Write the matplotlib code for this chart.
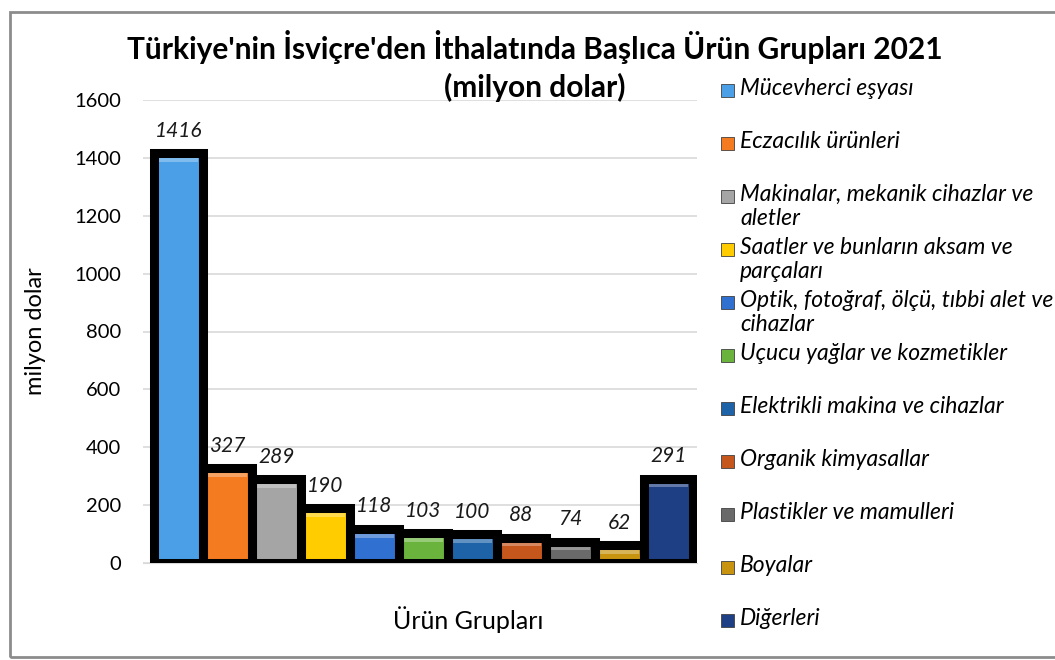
import matplotlib
matplotlib.use("Agg")
import matplotlib.pyplot as plt
from matplotlib.patches import Rectangle
import matplotlib.colors as mcolors
import numpy as np

plt.rcParams['font.family'] = ['Lato', 'DejaVu Sans']

categories = ["Mücevherci eşyası", "Eczacılık ürünleri",
              "Makinalar, mekanik cihazlar ve\naletler",
              "Saatler ve bunların aksam ve\nparçaları",
              "Optik, fotoğraf, ölçü, tıbbi alet ve\ncihazlar",
              "Uçucu yağlar ve kozmetikler", "Elektrikli makina ve cihazlar",
              "Organik kimyasallar", "Plastikler ve mamulleri", "Boyalar", "Diğerleri"]
values = [1416, 327, 289, 190, 118, 103, 100, 88, 74, 62, 291]
colors = ["#4a9fe6", "#f47b20", "#a5a5a5", "#ffcc00", "#3070d0", "#6ab43e",
          "#1e63a8", "#c5561c", "#6a6a6a", "#c89410", "#1f3f85"]
yticks = [0, 200, 400, 600, 800, 1000, 1200, 1400, 1600]

fig = plt.figure(figsize=(10.55, 6.6), dpi=100)
ax = fig.add_axes([143/1055, 1-563/660, 554/1055, 463/660])

x = np.arange(len(values))
# light bevel just under the top edge of each bar
light = [tuple(0.7 * np.array(mcolors.to_rgb(c)) + 0.3) for c in colors]
ax.bar(x, values, width=1.0, color=colors, edgecolor="none", zorder=3)
ax.bar(x, 14, bottom=np.array(values) - 30, width=0.8, color=light, linewidth=0, zorder=4)
ax.bar(x, values, width=1.0, color="none", edgecolor="black", linewidth=6.5, zorder=5)
for xi, v in zip(x, values):
    ax.annotate(str(v), (xi, v), xytext=(0, 9), textcoords="offset points",
                ha="center", va="bottom", fontsize=15, style="italic", color="#1a1a1a")

ax.set_ylim(0, 1600)
ax.set_xlim(-0.72, 10.58)
ax.set_yticks(yticks)
ax.set_xticks([])
ax.tick_params(axis="y", length=0, pad=16, labelsize=14.5)
ax.grid(axis="y", color="#d9d9d9", linewidth=1.2, zorder=0)
for s in ["top", "right", "left"]:
    ax.spines[s].set_visible(False)
ax.spines["bottom"].set_color("#d9d9d9")
ax.set_ylabel("milyon dolar", fontsize=17, labelpad=20)
ax.set_xlabel("Ürün Grupları", fontsize=18)
ax.xaxis.set_label_coords((468-143)/554, -(620-563)/463)
ax.xaxis.label.set_va("center")

fig.text(535/1055, 1-47/660, "Türkiye'nin İsviçre'den İthalatında Başlıca Ürün Grupları 2021",
         ha="center", va="center", fontsize=21.5, fontweight="bold")
fig.text(535/1055, 1-87/660, "(milyon dolar)", ha="center", va="center",
         fontsize=21.5, fontweight="bold")

# legend
legend_y = [90, 143, 196, 249, 302, 355, 408, 461, 514, 567, 620]
for lab, c, ly in zip(categories, colors, legend_y):
    fig.patches.append(Rectangle((721/1055, 1-(ly+7)/660), 13/1055, 13/660,
                                 transform=fig.transFigure, facecolor=c,
                                 edgecolor="#404040", linewidth=0.6))
    fig.text(740/1055, 1-(ly-12)/660, lab, ha="left", va="top", fontsize=16.5,
             style="italic", linespacing=1.15)

fig.patches.append(Rectangle((10/1055, 3/660), 1.0, 645/660, transform=fig.transFigure,
                             fill=False, edgecolor="#8c8c8c", linewidth=2))

fig.savefig("out.png", dpi=100)
